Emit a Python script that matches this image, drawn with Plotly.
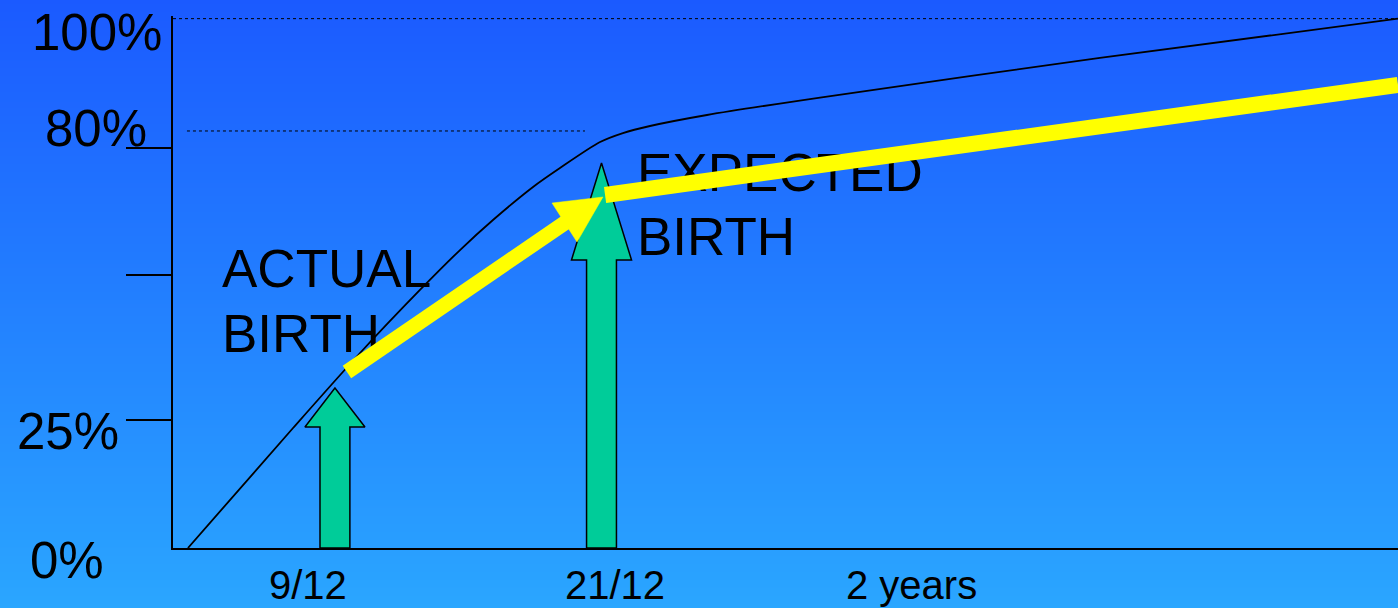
import base64, zlib, struct
import plotly.graph_objects as go

# ---------------- data ----------------
curve_x = [1.22, 9.80, 15.27, 20.16, 23.43, 26.12, 29.39, 31.59, 34.86, 36.73, 38.94, 43.59,
           52.82, 75.67, 100]
curve_y = [0, 22.67, 36.84, 48.74, 56.29, 61.96, 68.20, 71.78, 76.69, 78.39, 79.72, 81.80,
           85.10, 92.57, 100]

arrow_x = [13.22, 34.98]          # green arrows (actual / expected birth)
arrow_top = [30.23, 72.73]
arrow_head_base = [22.86, 54.41]

yellow1_x = [14.20, 32.57]
yellow1_y = [33.25, 62.34]
yellow_head_x = [35.10, 30.94, 32.98]
yellow_head_y = [66.31, 65.17, 57.81]
yellow2_x = [35.27, 100]
yellow2_y = [66.69, 87.47]

ref_line_y = [100, 78.78]
ref_line_x0 = [0, 1.14]
ref_line_x1 = [100, 33.63]

ytick_vals = [75.56, 51.57, 24.18]
ylabel_text = ["100%", "80%", "25%", "0%"]
ylabel_px_right = [163, 148, 120, 105]
ylabel_px_y = [32, 128, 431, 560]

xlabel_text = ["9/12", "21/12", "2 years"]
xlabel_vals = [11.0, 36.1, 60.3]

text_lines = [["ACTUAL", 4.0, 51.76], ["BIRTH", 4.0, 39.48],
              ["EXPECTED", 37.88, 69.89], ["BIRTH", 37.88, 57.80]]

# ---------------- style ----------------
W, H = 1398, 608
L, R, T, B = 173, 0, 16, 60
PW, PH = W - L - R, H - T - B
FONT = "Liberation Sans, Arial, sans-serif"
GREEN = "#00CC99"
YELLOW = "#FFFF00"
SHAFT_HW = 1.22
HEAD_HW = 2.45


def png_gradient(h, top, bottom):
    raw = b""
    for i in range(h):
        t = i / (h - 1)
        raw += b"\x00" + bytes(round(top[k] + (bottom[k] - top[k]) * t) for k in range(3))

    def chunk(tag, data):
        return struct.pack(">I", len(data)) + tag + data + struct.pack(">I", zlib.crc32(tag + data) & 0xffffffff)

    png = (b"\x89PNG\r\n\x1a\n" + chunk(b"IHDR", struct.pack(">IIBBBBB", 1, h, 8, 2, 0, 0, 0))
           + chunk(b"IDAT", zlib.compress(raw)) + chunk(b"IEND", b""))
    return "data:image/png;base64," + base64.b64encode(png).decode()


fig = go.Figure()

# curve
fig.add_trace(go.Scatter(x=curve_x, y=curve_y, mode="lines",
                         line=dict(color="black", width=1.8, shape="spline", smoothing=0.8),
                         hoverinfo="skip"))

# text
for txt, tx, ty in text_lines:
    fig.add_trace(go.Scatter(x=[tx], y=[ty], mode="text", text=[txt], textposition="middle right",
                             textfont=dict(family=FONT, size=53, color="black"), hoverinfo="skip"))

# green arrows
for cx, top, hb in zip(arrow_x, arrow_top, arrow_head_base):
    px = [cx - SHAFT_HW, cx - SHAFT_HW, cx - HEAD_HW, cx, cx + HEAD_HW, cx + SHAFT_HW, cx + SHAFT_HW, cx - SHAFT_HW]
    py = [0, hb, hb, top, hb, hb, 0, 0]
    fig.add_trace(go.Scatter(x=px, y=py, mode="lines", fill="toself", fillcolor=GREEN,
                             line=dict(color="black", width=1.5), hoverinfo="skip"))

# yellow arrow + line
fig.add_trace(go.Scatter(x=yellow1_x, y=yellow1_y, mode="lines",
                         line=dict(color=YELLOW, width=15), hoverinfo="skip"))
fig.add_trace(go.Scatter(x=yellow_head_x + yellow_head_x[:1], y=yellow_head_y + yellow_head_y[:1],
                         mode="lines", fill="toself", fillcolor=YELLOW,
                         line=dict(color=YELLOW, width=0.5), hoverinfo="skip"))
fig.add_trace(go.Scatter(x=yellow2_x, y=yellow2_y, mode="lines",
                         line=dict(color=YELLOW, width=16), hoverinfo="skip"))

# dotted reference lines
for y0, x0, x1 in zip(ref_line_y, ref_line_x0, ref_line_x1):
    fig.add_shape(type="line", x0=x0, x1=x1, y0=y0, y1=y0, xref="x", yref="y",
                  line=dict(color="black", width=1, dash="dot"))

annotations = []
for t, xr, yc in zip(ylabel_text, ylabel_px_right, ylabel_px_y):
    annotations.append(dict(text=t, xref="paper", yref="paper", x=(xr - L) / PW, y=(H - B - yc) / PH,
                            xanchor="right", yanchor="middle", showarrow=False,
                            font=dict(family=FONT, size=51, color="black"), borderpad=0))
for t, xv in zip(xlabel_text, xlabel_vals):
    annotations.append(dict(text=t, xref="x", yref="paper", x=xv, y=(H - B - 585) / PH,
                            xanchor="center", yanchor="middle", showarrow=False,
                            font=dict(family=FONT, size=40, color="black"), borderpad=0))

fig.update_layout(
    width=W, height=H, autosize=False,
    margin=dict(l=L, r=R, t=T, b=B, pad=0),
    paper_bgcolor="#2A90FF", plot_bgcolor="rgba(0,0,0,0)",
    showlegend=False,
    annotations=annotations,
    images=[dict(source=png_gradient(H, (27, 90, 255), (42, 166, 255)), xref="paper", yref="paper",
                 x=-L / PW, y=1 + T / PH, sizex=W / PW, sizey=H / PH, xanchor="left", yanchor="top",
                 sizing="stretch", layer="below")],
    xaxis=dict(range=[0, 100], showline=True, linecolor="black", linewidth=1.5, showgrid=False,
               zeroline=False, ticks="", showticklabels=False, fixedrange=True),
    yaxis=dict(range=[0, 100.5], showline=True, linecolor="black", linewidth=1.5, showgrid=False,
               zeroline=False, ticks="outside", ticklen=45, tickwidth=1.5, tickcolor="black",
               tickvals=ytick_vals, showticklabels=False, fixedrange=True),
)

fig.write_html("out.html", config=dict(displayModeBar=False),
               post_script="document.body.style.margin='0';document.body.style.overflow='hidden';")
